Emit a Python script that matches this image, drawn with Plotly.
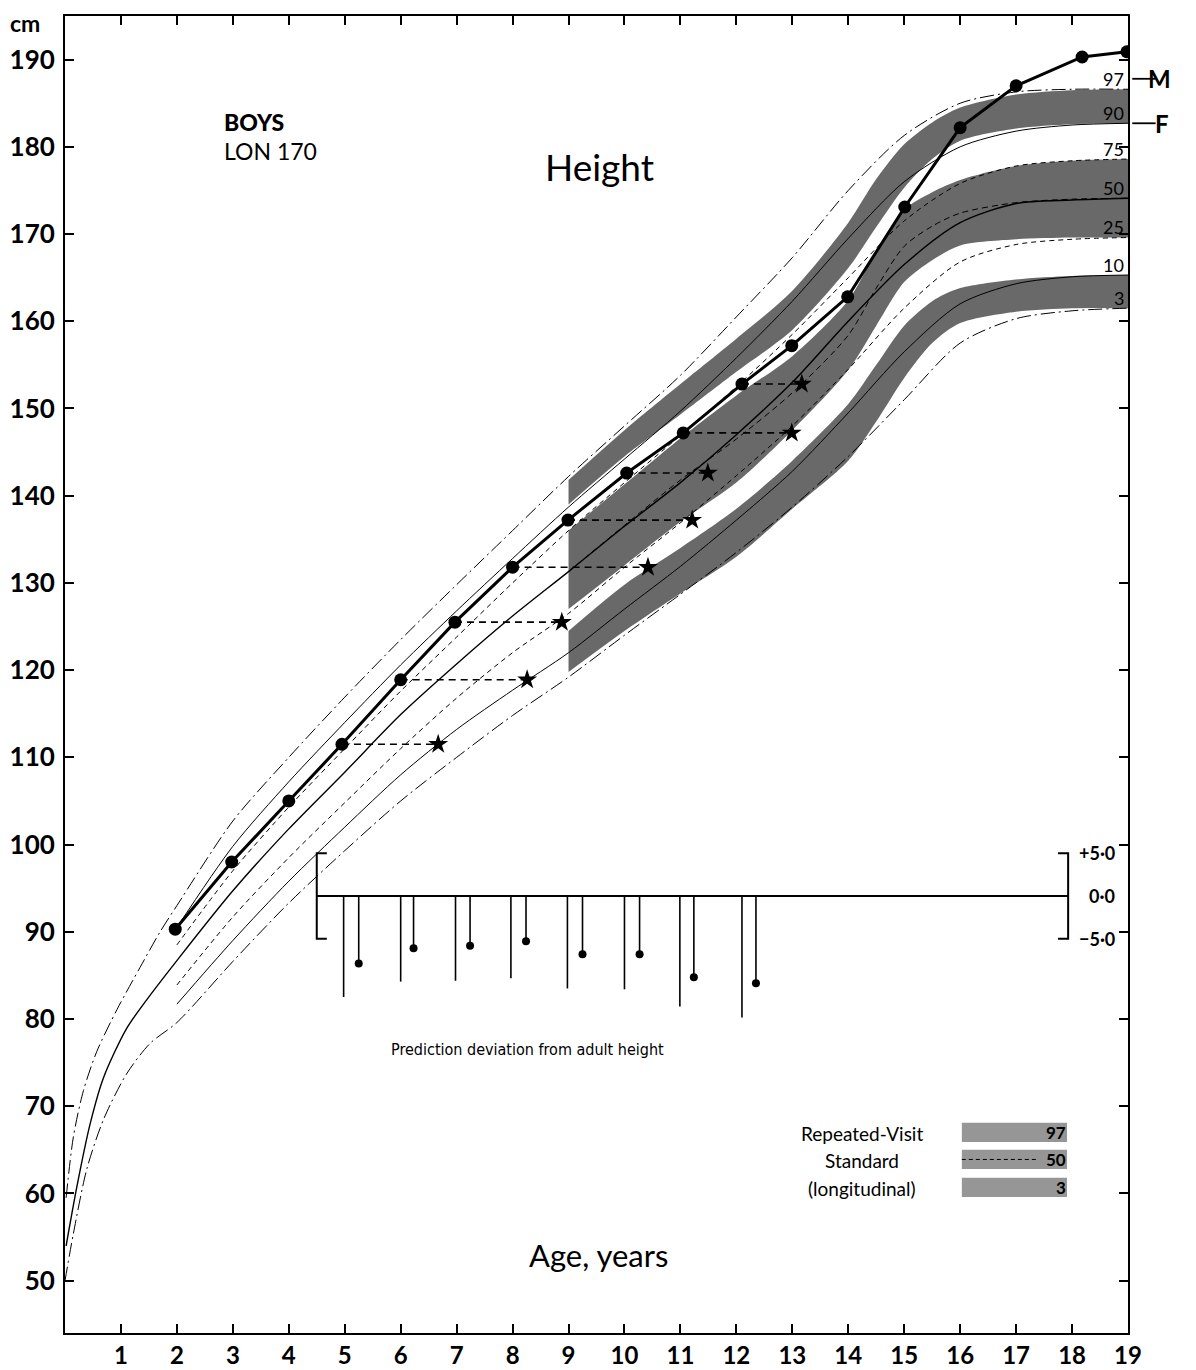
import plotly.graph_objects as go

# ---------------- data ----------------
# cross-sectional percentile curves (age in years, height in cm)
ages_full = [0.02, 0.15, 0.33, 0.57, 0.93, 1.34, 1.7, 2, 3, 4, 5, 6, 7, 8, 9, 10, 11, 12, 13, 14, 15, 16, 17, 18, 19]
p97 = [59.5, 66.5, 71.8, 76.3, 81.1, 85.9, 90.0, 93.0, 102.7, 110.0, 116.9, 123.5, 129.8, 136.0, 142.2, 148.0, 153.8, 160.5, 167.3, 175.0, 181.3, 185.0, 186.3, 186.6, 186.6]
ages_50 = [0.02, 0.21, 0.45, 0.69, 1.1, 1.46, 2, 3, 4, 5, 6, 7, 8, 9, 10, 11, 12, 13, 14, 15, 16, 17, 18, 19]
p50 = [54.0, 60.7, 68.0, 73.3, 78.9, 82.2, 86.7, 94.7, 101.8, 108.3, 114.9, 120.7, 126.2, 131.3, 136.5, 141.5, 147.0, 153.0, 160.0, 166.5, 171.3, 173.5, 173.9, 174.1]
ages_3 = [0.0, 0.15, 0.39, 0.69, 1.1, 1.52, 2, 3, 4, 5, 6, 7, 8, 9, 10, 11, 12, 13, 14, 15, 16, 17, 18, 19]
p3 = [50.0, 55.4, 62.8, 68.5, 73.7, 77.2, 79.6, 86.6, 93.3, 99.3, 105.0, 110.0, 114.8, 119.2, 124.0, 128.7, 133.5, 138.7, 144.5, 151.0, 157.5, 160.3, 161.2, 161.5]
ages_cs = [2, 3, 4, 5, 6, 7, 8, 9, 10, 11, 12, 13, 14, 15, 16, 17, 18, 19]
p90 = [90.5, 99.8, 107.2, 114.0, 120.6, 126.8, 132.8, 138.7, 144.2, 149.7, 155.8, 162.3, 169.5, 176.0, 180.0, 181.8, 182.5, 182.7]
p75 = [88.5, 97.0, 104.3, 111.0, 117.6, 123.8, 130.0, 136.0, 141.5, 146.9, 152.5, 158.5, 165.0, 171.5, 175.8, 177.8, 178.4, 178.6]
p25 = [83.9, 91.7, 98.5, 104.8, 111.0, 116.8, 122.0, 126.5, 131.8, 136.9, 142.3, 148.0, 154.5, 161.5, 166.8, 168.8, 169.4, 169.6]
p10 = [81.7, 89.0, 95.8, 102.0, 108.0, 113.2, 117.7, 122.0, 127.0, 131.9, 137.2, 142.8, 149.5, 156.5, 162.0, 164.3, 165.1, 165.3]

# repeated-visit (longitudinal) standard bands
band_ages = [9, 10, 11, 12, 13, 14, 14.5, 15, 15.5, 16, 17, 18, 19]
top_hi = [141.8, 147.5, 152.8, 158.0, 163.5, 171.3, 176.3, 180.3, 182.8, 184.5, 186.0, 186.5, 186.6]
top_lo = [139.0, 144.5, 149.3, 154.2, 159.0, 166.1, 170.8, 175.3, 178.6, 180.7, 182.1, 182.6, 182.7]
mid_hi = [136.0, 141.3, 146.6, 151.5, 156.0, 162.4, 168.0, 172.8, 174.8, 176.2, 177.8, 178.4, 178.6]
mid_lo = [127.0, 132.0, 137.0, 141.5, 147.5, 154.4, 159.5, 164.5, 167.0, 168.7, 169.4, 169.6, 169.6]
mid_50 = [131.3, 136.6, 141.8, 146.5, 151.8, 158.4, 163.8, 168.6, 170.9, 172.4, 173.6, 174.0, 174.1]
low_hi = [124.5, 129.8, 134.0, 138.5, 144.0, 150.5, 155.0, 159.5, 162.3, 163.8, 164.8, 165.2, 165.3]
low_lo = [119.8, 124.5, 128.8, 133.0, 138.5, 144.0, 148.5, 153.5, 157.5, 159.8, 161.1, 161.5, 161.5]

# the boy (LON 170)
boy_age = [1.97, 2.98, 4.0, 4.95, 6.0, 6.97, 8.0, 8.99, 10.04, 11.05, 12.1, 12.99, 13.99, 15.01, 16.0, 17.0, 18.18, 18.98]
boy_ht = [90.3, 98.0, 105.0, 111.5, 118.9, 125.5, 131.8, 137.2, 142.6, 147.2, 152.8, 157.2, 162.8, 173.1, 182.2, 187.0, 190.3, 190.9]
star_age = [6.67, 8.26, 8.88, 10.42, 11.21, 11.49, 12.99, 13.17]
star_from = [4.95, 6.0, 6.97, 8.0, 8.99, 10.04, 11.05, 12.1]
star_ht = [111.5, 118.9, 125.5, 131.8, 137.2, 142.6, 147.2, 152.8]

# prediction deviation from adult height (cm)
dev_age_a = [4.98, 6.0, 6.98, 7.97, 8.98, 10.0, 10.99, 12.1]
dev_a = [-11.8, -10.0, -9.9, -9.6, -10.8, -10.9, -12.9, -14.2]
dev_age_b = [5.25, 6.23, 7.24, 8.24, 9.25, 10.27, 11.24, 12.35]
dev_b = [-7.9, -6.1, -5.8, -5.3, -6.8, -6.8, -9.5, -10.2]
dev_scale = [5.0, 0.0, -5.0]
dev_scale_text = ["+5·0", "0·0", "−5·0"]

pct_labels = ["97", "90", "75", "50", "25", "10", "3"]
pct_end = [186.6, 182.7, 178.6, 174.1, 169.6, 165.3, 161.5]
x_ticks = list(range(1, 20))
y_ticks = list(range(50, 191, 10))

# ---------------- figure ----------------
BAND = "rgb(105,105,105)"
FONT = "Lato, 'Open Sans', sans-serif"
fig = go.Figure()

def band(lo, hi):
    fig.add_trace(go.Scatter(x=band_ages, y=lo, mode="lines", line=dict(width=0, shape="spline", smoothing=0.8),
                             hoverinfo="skip", showlegend=False))
    fig.add_trace(go.Scatter(x=band_ages, y=hi, mode="lines", line=dict(width=0, shape="spline", smoothing=0.8),
                             fill="tonexty", fillcolor=BAND, hoverinfo="skip", showlegend=False))

band(top_lo, top_hi)
band(mid_lo, mid_hi)
band(low_lo, low_hi)

def curve(x, y, dash, width=1.0):
    fig.add_trace(go.Scatter(x=x, y=y, mode="lines",
                             line=dict(color="black", width=width, dash=dash, shape="spline", smoothing=0.8),
                             hoverinfo="skip", showlegend=False))

curve(ages_full, p97, "14px,4px,2px,4px")
curve(ages_cs, p90, "solid", 1.0)
curve(ages_cs, p75, "5px,4px")
curve(ages_50, p50, "solid", 1.4)
curve(ages_cs, p25, "5px,4px")
curve(ages_cs, p10, "solid", 1.0)
curve(ages_3, p3, "14px,4px,2px,4px")
curve(band_ages, mid_50, "6px,4px", 1.0)

# dashed connectors from measurement to star
cx, cy = [], []
for a0, a1, h in zip(star_from, star_age, star_ht):
    cx += [a0, a1, None]
    cy += [h, h, None]
fig.add_trace(go.Scatter(x=cx, y=cy, mode="lines", line=dict(color="black", width=1.6, dash="7px,5px"),
                         hoverinfo="skip", showlegend=False))
fig.add_trace(go.Scatter(x=star_age, y=star_ht, mode="markers",
                         marker=dict(symbol="star", size=15, color="black"), hoverinfo="skip", showlegend=False))
fig.add_trace(go.Scatter(x=boy_age, y=boy_ht, mode="lines+markers", line=dict(color="black", width=3),
                         marker=dict(size=13, color="black"), hoverinfo="skip", showlegend=False))

# inset: prediction deviation (own hidden axis)
sx, sy = [], []
for a, d in zip(dev_age_a, dev_a):
    sx += [a, a, None]
    sy += [0, d, None]
fig.add_trace(go.Scatter(x=sx, y=sy, yaxis="y2", mode="lines", line=dict(color="black", width=1.6),
                         hoverinfo="skip", showlegend=False))
sx, sy = [], []
for a, d in zip(dev_age_b, dev_b):
    sx += [a, a, None]
    sy += [0, d, None]
fig.add_trace(go.Scatter(x=sx, y=sy, yaxis="y2", mode="lines", line=dict(color="black", width=1.6),
                         hoverinfo="skip", showlegend=False))
fig.add_trace(go.Scatter(x=dev_age_b, y=dev_b, yaxis="y2", mode="markers", marker=dict(size=8, color="black"),
                         hoverinfo="skip", showlegend=False))
# baseline and brackets
fig.add_trace(go.Scatter(x=[4.68, 4.5, 4.5, 4.68, None, 4.5, 17.93, None, 17.75, 17.93, 17.93, 17.75],
                         y=[5, 5, -5, -5, None, 0, 0, None, 5, 5, -5, -5], yaxis="y2", mode="lines",
                         line=dict(color="black", width=2), hoverinfo="skip", showlegend=False))

ann = []
for v, t in zip(dev_scale, dev_scale_text):
    ann.append(dict(x=18.8, y=v, xref="x", yref="y2", text=t, showarrow=False, xanchor="right",
                    font=dict(family=FONT, size=18, color="black", weight="bold")))
ann.append(dict(x=8.26, y=-17.9, xref="x", yref="y2", text="Prediction deviation from adult height",
                showarrow=False, font=dict(family="'Liberation Sans Narrow', 'DejaVu Sans Condensed', sans-serif",
                                           size=16, color="black")))
for t, v in zip(pct_labels, pct_end):
    ann.append(dict(x=18.97, y=v + 1.2, xref="x", yref="y", text=t, showarrow=False, xanchor="right",
                    font=dict(family=FONT, size=18, color="black")))
ann += [
    dict(x=-0.038, y=0.9945, xref="paper", yref="paper", text="cm", showarrow=False, xanchor="center",
         yanchor="middle", font=dict(family=FONT, size=23, color="black", weight="bold")),
    dict(x=2.81, y=182.8, xref="x", yref="y", text="BOYS", showarrow=False, xanchor="left",
         font=dict(family=FONT, size=23, color="black", weight=900)),
    dict(x=2.81, y=179.5, xref="x", yref="y", text="LON 170", showarrow=False, xanchor="left",
         font=dict(family=FONT, size=23, color="black")),
    dict(x=9.56, y=177.7, xref="x", yref="y", text="Height", showarrow=False,
         font=dict(family=FONT, size=37, color="black")),
    dict(x=9.53, y=53.0, xref="x", yref="y", text="Age, years", showarrow=False,
         font=dict(family=FONT, size=31, color="black")),
    dict(x=14.25, y=66.9, xref="x", yref="y", text="Repeated-Visit", showarrow=False,
         font=dict(family=FONT, size=19, color="black")),
    dict(x=14.25, y=63.8, xref="x", yref="y", text="Standard", showarrow=False,
         font=dict(family=FONT, size=19, color="black")),
    dict(x=14.25, y=60.6, xref="x", yref="y", text="(longitudinal)", showarrow=False,
         font=dict(family=FONT, size=19, color="black")),
    dict(x=17.92, y=67.0, xref="x", yref="y", text="97", showarrow=False, xanchor="right",
         font=dict(family=FONT, size=17, color="black", weight="bold")),
    dict(x=17.92, y=63.9, xref="x", yref="y", text="50", showarrow=False, xanchor="right",
         font=dict(family=FONT, size=17, color="black", weight="bold")),
    dict(x=17.92, y=60.7, xref="x", yref="y", text="3", showarrow=False, xanchor="right",
         font=dict(family=FONT, size=17, color="black", weight="bold")),
    dict(x=1.042, y=187.8, xref="paper", yref="y", text="M", showarrow=False,
         font=dict(family=FONT, size=24, color="black", weight="bold")),
    dict(x=1.040, y=182.7, xref="paper", yref="y", text="F", showarrow=False,
         font=dict(family=FONT, size=24, color="black", weight="bold")),
]

shapes = [
    dict(type="rect", x0=16.03, x1=17.91, y0=65.9, y1=68.1, xref="x", yref="y", fillcolor="rgb(150,150,150)", line=dict(width=0)),
    dict(type="rect", x0=16.03, x1=17.91, y0=62.8, y1=65.0, xref="x", yref="y", fillcolor="rgb(150,150,150)", line=dict(width=0)),
    dict(type="rect", x0=16.03, x1=17.91, y0=59.6, y1=61.8, xref="x", yref="y", fillcolor="rgb(150,150,150)", line=dict(width=0)),
    dict(type="line", x0=16.03, x1=17.4, y0=63.9, y1=63.9, xref="x", yref="y", line=dict(color="black", width=1, dash="4px,3px")),
    dict(type="line", x0=1.004, x1=1.026, y0=187.8, y1=187.8, xref="paper", yref="y", line=dict(color="black", width=1.8)),
    dict(type="line", x0=1.004, x1=1.026, y0=182.7, y1=182.7, xref="paper", yref="y", line=dict(color="black", width=1.8)),
]

axis_common = dict(showline=True, linecolor="black", linewidth=2, mirror="ticks", ticks="inside",
                   ticklen=9, tickwidth=1.5, tickcolor="black", showgrid=False, zeroline=False, automargin=False)
fig.update_layout(
    width=1188, height=1362, margin=dict(l=57, r=68, t=8, b=37, autoexpand=False),
    plot_bgcolor="white", paper_bgcolor="white", showlegend=False,
    xaxis=dict(range=[0, 19], tickvals=x_ticks, ticktext=[str(v) for v in x_ticks],
               tickfont=dict(family=FONT, size=24, color="black", weight="bold"), ticklabelstandoff=0, **axis_common),
    yaxis=dict(range=[44, 195], tickvals=y_ticks, ticktext=[str(v) for v in y_ticks],
               tickfont=dict(family=FONT, size=26, color="black", weight="bold"), ticklabelstandoff=3, **axis_common),
    yaxis2=dict(overlaying="y", range=[-51.05, 102.8], visible=False),
    annotations=ann, shapes=shapes,
)
fig.write_html("out.html")
